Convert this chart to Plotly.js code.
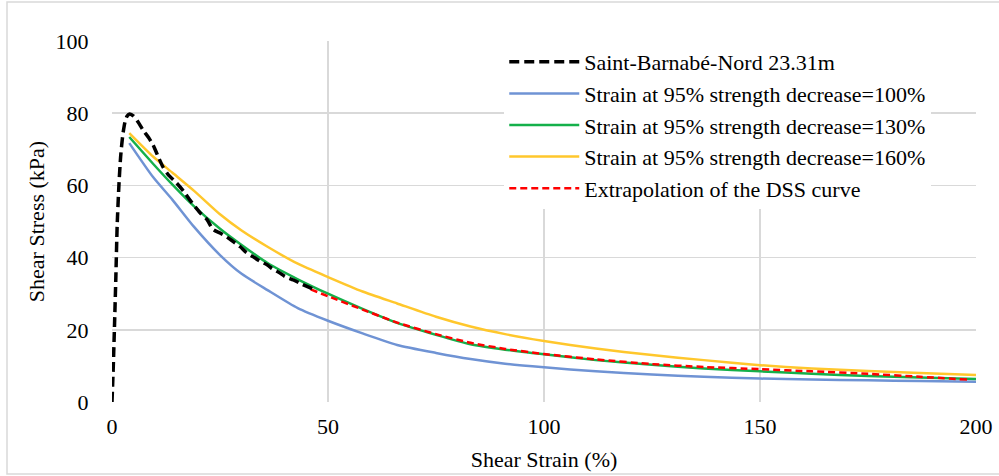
<!DOCTYPE html>
<html>
<head>
<meta charset="utf-8">
<script src="https://cdn.plot.ly/plotly-3.0.1.min.js"></script>
<style>html,body{margin:0;padding:0;background:#fff;}#chart{position:relative;z-index:1;width:999px;height:476px;}
#fontwarm{position:absolute;left:960px;top:455px;z-index:0;font-family:"Liberation Serif";font-size:3px;color:#fff;line-height:3px;}</style>
</head>
<body>
<div id="fontwarm" aria-hidden="true">.</div>
<div id="chart"></div>
<script>
// Measured DSS curve
const dssX = [0, 0.3, 0.6, 0.9, 1.2, 1.6, 2.0, 2.5, 3.0, 3.5, 4.1, 5.0, 6.0, 7.2, 8.5, 9.5, 10.5, 11.8, 13.0, 15.0, 16.5, 18.0, 20.4, 22.0, 23.4, 25.0, 26.6, 28.0, 29.7, 31.0, 32.7, 34.0, 35.9, 37.0, 38.9, 40.0, 42.0, 44.0, 45.9, 47.0];
const dssY = [0, 10, 22, 35, 49, 60, 68, 74, 77.5, 79.2, 79.8, 79.2, 77.6, 75.3, 73.2, 71.2, 68.5, 65.1, 63.0, 60.6, 58.5, 56.0, 52.4, 50.5, 47.8, 46.8, 45.7, 44.5, 43.0, 41.5, 40.2, 39.2, 38.0, 37.0, 35.7, 34.8, 33.8, 32.6, 31.6, 31.0];

// Model curves
const modelX = [4, 9.5, 14, 19, 25, 30, 36, 43, 50, 58, 66, 75, 83, 91, 100, 112, 125, 137, 150, 162, 175, 187, 200];
const s100 = [71.7, 62.3, 56.0, 48.5, 40.7, 35.5, 31.0, 26.0, 22.5, 19.0, 15.8, 13.6, 11.9, 10.6, 9.6, 8.5, 7.6, 7.0, 6.5, 6.2, 6.0, 5.8, 5.6];
const s130 = [73.4, 66.0, 60.2, 54.2, 48.0, 43.5, 38.5, 34.0, 30.0, 25.8, 21.9, 18.6, 16.0, 14.5, 13.2, 11.6, 10.3, 9.3, 8.5, 7.8, 7.2, 6.8, 6.4];
const s160 = [74.5, 68.0, 63.5, 58.5, 52.0, 47.5, 43.0, 38.3, 34.6, 30.6, 27.3, 23.6, 20.9, 18.8, 16.9, 14.8, 13.0, 11.6, 10.2, 9.3, 8.6, 8.0, 7.5];
const extX = [46, 50, 58, 66, 75, 83, 91, 100, 112, 125, 137, 150, 162, 175, 187, 198];
const extY = [31.2, 29.3, 25.6, 22.0, 18.8, 16.4, 14.7, 13.3, 11.8, 10.5, 9.7, 9.1, 8.5, 7.8, 7.0, 6.2];

const names = ["Saint-Barnabé-Nord 23.31m",
  "Strain at 95% strength decrease=100%",
  "Strain at 95% strength decrease=130%",
  "Strain at 95% strength decrease=160%",
  "Extrapolation of the DSS curve"];
const xTicks = [0, 50, 100, 150, 200];
const yTicks = [0, 20, 40, 60, 80, 100];

const FONT = "Liberation Serif";

const traces = [
  {x: dssX, y: dssY, name: names[0], mode: "lines", line: {color: "#000000", width: 3.5, dash: "10px,5px", shape: "spline", smoothing: 0.6}},
  {x: modelX, y: s100, name: names[1], mode: "lines", line: {color: "#6f93d4", width: 2.5, shape: "spline", smoothing: 0.6}},
  {x: modelX, y: s130, name: names[2], mode: "lines", line: {color: "#14b04a", width: 2.5, shape: "spline", smoothing: 0.6}},
  {x: modelX, y: s160, name: names[3], mode: "lines", line: {color: "#ffc72c", width: 2.5, shape: "spline", smoothing: 0.6}},
  {x: extX, y: extY, name: names[4], mode: "lines", line: {color: "#ff0000", width: 2.5, dash: "7px,4px", shape: "spline", smoothing: 0.6}}
];
const drawOrder = [traces[1], traces[2], traces[3], traces[4], traces[0]];
drawOrder.forEach(t => { t.legendrank = traces.indexOf(t) + 1; });

const layout = {
  width: 999, height: 476,
  margin: {l: 112, r: 23, t: 41, b: 74, pad: 0},
  font: {family: FONT, size: 22, color: "#000000"},
  showlegend: true,
  legend: {
    x: 0.454, y: 1.0, xanchor: "left", yanchor: "top",
    bgcolor: "#ffffff", borderwidth: 0,
    font: {family: FONT, size: 22},
    traceorder: "normal", itemwidth: 70, tracegroupgap: 0
  },
  xaxis: {
    range: [0, 200], tickvals: xTicks, ticktext: xTicks.map(String),
    showgrid: true, gridcolor: "#d9d9d9", gridwidth: 1.5,
    zeroline: false, showline: false, ticks: "outside", ticklen: 5, tickcolor: "rgba(0,0,0,0)",
    tickfont: {family: FONT, size: 22},
    title: {text: "Shear Strain (%)", font: {family: FONT, size: 22}, standoff: 13}
  },
  yaxis: {
    range: [0, 100], tickvals: yTicks, ticktext: yTicks.map(String),
    showgrid: true, gridcolor: "#d9d9d9", gridwidth: 1.5,
    zeroline: false, showline: false, ticks: "outside", ticklen: 18, tickcolor: "rgba(0,0,0,0)",
    tickfont: {family: FONT, size: 22},
    title: {text: "Shear Stress (kPa)", font: {family: FONT, size: 22}, standoff: 4}
  },
  shapes: [
    {type: "rect", xref: "paper", yref: "paper",
     x0: (7 - 112) / 864, x1: (1010 - 112) / 864,
     y0: (402 - 474) / 361, y1: (402 - 2) / 361,
     line: {color: "#d9d9d9", width: 1.5}, fillcolor: "rgba(0,0,0,0)", layer: "below"}
  ]
};

const config = {staticPlot: true};
Plotly.newPlot("chart", drawOrder, layout, config);
if (document.fonts && document.fonts.load) {
  document.fonts.load('22px "Liberation Serif"').then(() => {
    Plotly.react("chart", drawOrder, layout, config);
  });
}
</script>
</body>
</html>
